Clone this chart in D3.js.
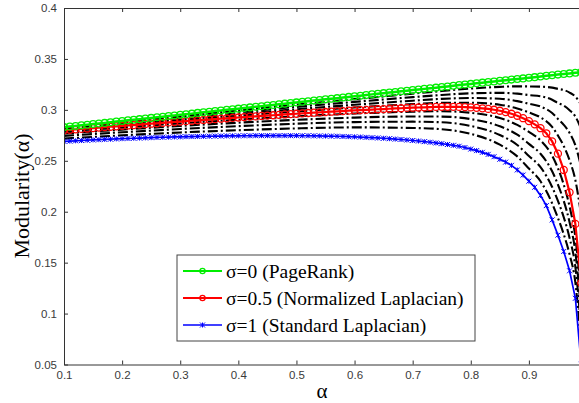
<!DOCTYPE html>
<html>
<head>
<meta charset="utf-8">
<script src="https://cdn.jsdelivr.net/npm/d3@7/dist/d3.min.js"></script>
<style>
  html, body { margin: 0; padding: 0; background: #fff; }
  svg { display: block; }
</style>
</head>
<body>
<svg id="chart" width="579" height="403"></svg>
<script>
// Sampling grid of the damping factor alpha for the marked series (0.10 .. 0.99)
const alphaGrid = d3.range(10, 100).map(d => d / 100);

// sigma = 0 (PageRank)
const pageRank = [
  0.2830, 0.2836, 0.2842, 0.2848, 0.2854, 0.2860, 0.2866, 0.2872, 0.2879, 0.2885,
  0.2891, 0.2897, 0.2903, 0.2909, 0.2915, 0.2921, 0.2927, 0.2933, 0.2939, 0.2945,
  0.2951, 0.2957, 0.2963, 0.2970, 0.2976, 0.2982, 0.2988, 0.2994, 0.3000, 0.3006,
  0.3012, 0.3018, 0.3024, 0.3030, 0.3036, 0.3042, 0.3048, 0.3054, 0.3061, 0.3067,
  0.3073, 0.3079, 0.3085, 0.3091, 0.3097, 0.3103, 0.3109, 0.3115, 0.3121, 0.3127,
  0.3133, 0.3139, 0.3145, 0.3152, 0.3158, 0.3164, 0.3170, 0.3176, 0.3182, 0.3188,
  0.3194, 0.3200, 0.3206, 0.3212, 0.3218, 0.3224, 0.3230, 0.3236, 0.3243, 0.3249,
  0.3255, 0.3261, 0.3267, 0.3273, 0.3279, 0.3285, 0.3291, 0.3297, 0.3303, 0.3309,
  0.3315, 0.3321, 0.3327, 0.3334, 0.3340, 0.3346, 0.3352, 0.3358, 0.3364, 0.3370
];

// sigma = 0.5 (Normalized Laplacian)
const normalizedLaplacian = [
  0.2800, 0.2804, 0.2809, 0.2813, 0.2817, 0.2821, 0.2826, 0.2830, 0.2834, 0.2838,
  0.2843, 0.2847, 0.2851, 0.2855, 0.2860, 0.2864, 0.2868, 0.2872, 0.2877, 0.2881,
  0.2885, 0.2889, 0.2893, 0.2897, 0.2901, 0.2905, 0.2909, 0.2913, 0.2917, 0.2921,
  0.2925, 0.2929, 0.2933, 0.2936, 0.2940, 0.2944, 0.2947, 0.2951, 0.2955, 0.2958,
  0.2962, 0.2965, 0.2969, 0.2972, 0.2975, 0.2979, 0.2982, 0.2985, 0.2988, 0.2992,
  0.2995, 0.2998, 0.3000, 0.3003, 0.3006, 0.3008, 0.3011, 0.3014, 0.3016, 0.3019,
  0.3021, 0.3023, 0.3025, 0.3027, 0.3029, 0.3030, 0.3030, 0.3030, 0.3029, 0.3027,
  0.3024, 0.3020, 0.3015, 0.3009, 0.3001, 0.2991, 0.2978, 0.2962, 0.2942, 0.2918,
  0.2890, 0.2858, 0.2820, 0.2770, 0.2690, 0.2570, 0.2410, 0.2190, 0.1880, 0.1300
];

// sigma = 1 (Standard Laplacian)
const standardLaplacian = [
  0.2690, 0.2693, 0.2696, 0.2699, 0.2702, 0.2705, 0.2707, 0.2710, 0.2712, 0.2715,
  0.2717, 0.2719, 0.2721, 0.2723, 0.2725, 0.2727, 0.2729, 0.2731, 0.2732, 0.2734,
  0.2735, 0.2737, 0.2738, 0.2739, 0.2740, 0.2741, 0.2742, 0.2743, 0.2744, 0.2745,
  0.2745, 0.2746, 0.2746, 0.2747, 0.2747, 0.2747, 0.2747, 0.2747, 0.2747, 0.2747,
  0.2747, 0.2746, 0.2746, 0.2745, 0.2744, 0.2743, 0.2742, 0.2741, 0.2739, 0.2737,
  0.2735, 0.2733, 0.2730, 0.2727, 0.2724, 0.2721, 0.2717, 0.2713, 0.2709, 0.2704,
  0.2699, 0.2694, 0.2688, 0.2682, 0.2675, 0.2668, 0.2660, 0.2652, 0.2643, 0.2630,
  0.2615, 0.2600, 0.2583, 0.2563, 0.2540, 0.2515, 0.2487, 0.2455, 0.2410, 0.2360,
  0.2300, 0.2240, 0.2160, 0.2060, 0.1920, 0.1770, 0.1610, 0.1420, 0.1150, 0.0500
];

// Intermediate sigma values (dash-dot curves), sampled at these alphas
const alphaKnots = [0.10, 0.20, 0.30, 0.40, 0.50, 0.60, 0.70, 0.75, 0.80, 0.85, 0.88, 0.90, 0.92, 0.94, 0.95, 0.96, 0.97, 0.98, 0.99];
const sigma01 = [0.2824, 0.2881, 0.2938, 0.2995, 0.3051, 0.3105, 0.3159, 0.3185, 0.3209, 0.3226, 0.3231, 0.3230, 0.3228, 0.3218, 0.3206, 0.3195, 0.3170, 0.3130, 0.3050];
const sigma02 = [0.2818, 0.2872, 0.2925, 0.2977, 0.3029, 0.3078, 0.3125, 0.3146, 0.3163, 0.3167, 0.3159, 0.3145, 0.3134, 0.3099, 0.3067, 0.3041, 0.2996, 0.2934, 0.2811];
const sigma03 = [0.2812, 0.2862, 0.2911, 0.2960, 0.3006, 0.3050, 0.3090, 0.3108, 0.3116, 0.3109, 0.3086, 0.3060, 0.3033, 0.2969, 0.2911, 0.2853, 0.2774, 0.2652, 0.2438];
const sigma04 = [0.2806, 0.2853, 0.2898, 0.2942, 0.2984, 0.3023, 0.3056, 0.3069, 0.3070, 0.3050, 0.3014, 0.2975, 0.2926, 0.2833, 0.2748, 0.2645, 0.2505, 0.2310, 0.1962];
const sigma06 = [0.2787, 0.2828, 0.2867, 0.2903, 0.2936, 0.2964, 0.2982, 0.2987, 0.2971, 0.2920, 0.2852, 0.2784, 0.2701, 0.2551, 0.2426, 0.2266, 0.2051, 0.1749, 0.1156];
const sigma07 = [0.2768, 0.2806, 0.2842, 0.2874, 0.2902, 0.2924, 0.2935, 0.2934, 0.2909, 0.2839, 0.2756, 0.2666, 0.2569, 0.2397, 0.2266, 0.2106, 0.1897, 0.1603, 0.0996];
const sigma08 = [0.2745, 0.2780, 0.2812, 0.2840, 0.2864, 0.2880, 0.2884, 0.2878, 0.2842, 0.2753, 0.2655, 0.2548, 0.2437, 0.2243, 0.2106, 0.1946, 0.1743, 0.1457, 0.0836];
const sigma09 = [0.2718, 0.2750, 0.2778, 0.2800, 0.2818, 0.2828, 0.2822, 0.2810, 0.2764, 0.2658, 0.2543, 0.2424, 0.2299, 0.2082, 0.1938, 0.1778, 0.1582, 0.1303, 0.0668];

const xTicks = [0.1, 0.2, 0.3, 0.4, 0.5, 0.6, 0.7, 0.8, 0.9, 1.0];
const xTickLabels = ["0.1", "0.2", "0.3", "0.4", "0.5", "0.6", "0.7", "0.8", "0.9", ""];
const yTicks = [0.05, 0.1, 0.15, 0.2, 0.25, 0.3, 0.35, 0.4];
const legendLabels = ["σ=0 (PageRank)", "σ=0.5 (Normalized Laplacian)", "σ=1 (Standard Laplacian)"];

const svg = d3.select("#chart");
const margin = { left: 64, top: 8, right: 587, bottom: 364.5 };

const x = d3.scaleLinear().domain([0.1, 1.0]).range([margin.left, margin.right]);
const y = d3.scaleLinear().domain([0.05, 0.4]).range([margin.bottom, margin.top]);

svg.append("defs").append("clipPath").attr("id", "plotClip")
  .append("rect")
  .attr("x", margin.left).attr("y", margin.top)
  .attr("width", margin.right - margin.left).attr("height", margin.bottom - margin.top);

const plot = svg.append("g").attr("clip-path", "url(#plotClip)");

// dash-dot family
const smoothLine = d3.line()
  .x((d, i) => x(alphaKnots[i]))
  .y(d => y(d))
  .curve(d3.curveMonotoneX);

[sigma01, sigma02, sigma03, sigma04, sigma06, sigma07, sigma08, sigma09].forEach(vals => {
  plot.append("path")
    .attr("d", smoothLine(vals))
    .attr("fill", "none")
    .attr("stroke", "#000")
    .attr("stroke-width", 2.1)
    .attr("stroke-dasharray", "10 3 2 3");
});

const gridLine = d3.line()
  .x((d, i) => x(alphaGrid[i]))
  .y(d => y(d));

const series = [
  { vals: standardLaplacian, color: "#0000ff", width: 1.7, marker: "x" },
  { vals: normalizedLaplacian, color: "#ff0000", width: 2.2, marker: "o", r: 3.5 },
  { vals: pageRank, color: "#00ee00", width: 2.5, marker: "o", r: 3.4 }
];

function drawMarker(g, cx, cy, s) {
  if (s.marker === "o") {
    g.append("circle").attr("cx", cx).attr("cy", cy).attr("r", s.r)
      .attr("fill", "none").attr("stroke", s.color).attr("stroke-width", 1.3);
  } else {
    const k = 2.5;
    g.append("path")
      .attr("d", `M${cx - k},${cy - k}L${cx + k},${cy + k}M${cx - k},${cy + k}L${cx + k},${cy - k}M${cx},${cy - k}L${cx},${cy + k}`)
      .attr("stroke", s.color).attr("stroke-width", 1);
  }
}

series.forEach(s => {
  plot.append("path")
    .attr("d", gridLine(s.vals))
    .attr("fill", "none")
    .attr("stroke", s.color)
    .attr("stroke-width", s.width);
  const mg = plot.append("g");
  s.vals.forEach((v, i) => drawMarker(mg, x(alphaGrid[i]), y(v), s));
});

// axes
const tickFont = "'Liberation Sans', Arial, sans-serif";
const axisColor = "#333";

const xAxis = d3.axisBottom(x).tickValues(xTicks).tickFormat((d, i) => xTickLabels[i])
  .tickSizeInner(-4).tickSizeOuter(0).tickPadding(6);
svg.append("g").attr("transform", `translate(0,${margin.bottom})`).call(xAxis);

const xTop = d3.axisTop(x).tickValues(xTicks).tickFormat("")
  .tickSizeInner(-4).tickSizeOuter(0);
svg.append("g").attr("transform", `translate(0,${margin.top})`).call(xTop);

const yAxis = d3.axisLeft(y).tickValues(yTicks).tickFormat(d3.format("~g"))
  .tickSizeInner(-4).tickSizeOuter(0).tickPadding(7);
svg.append("g").attr("transform", `translate(${margin.left},0)`).call(yAxis);

const yRight = d3.axisRight(y).tickValues(yTicks).tickFormat("")
  .tickSizeInner(-4).tickSizeOuter(0);
svg.append("g").attr("transform", `translate(${margin.right},0)`).call(yRight);

svg.selectAll(".domain").attr("stroke", axisColor).attr("stroke-width", 1);
svg.selectAll(".tick line").attr("stroke", axisColor);
svg.selectAll(".tick text")
  .attr("fill", "#3a3a3a")
  .style("font-family", tickFont)
  .style("font-size", "11.5px");

// axis titles
const serif = "'Liberation Serif', 'Times New Roman', serif";
svg.append("text")
  .attr("x", 322)
  .attr("y", 398)
  .attr("text-anchor", "middle")
  .style("font-family", serif)
  .style("font-size", "21px")
  .text("α");

svg.append("text")
  .attr("transform", `translate(29,196) rotate(-90)`)
  .attr("text-anchor", "middle")
  .style("font-family", serif)
  .style("font-size", "22px")
  .text("Modularity(α)");

// legend
const legend = svg.append("g");
legend.append("rect")
  .attr("x", 177).attr("y", 255).attr("width", 298).attr("height", 86)
  .attr("fill", "#fff").attr("stroke", "#444").attr("stroke-width", 1);

const legendSeries = [series[2], series[1], series[0]];
legendLabels.forEach((label, i) => {
  const ly = 271 + i * 27;
  const s = legendSeries[i];
  legend.append("line")
    .attr("x1", 183).attr("x2", 222).attr("y1", ly).attr("y2", ly)
    .attr("stroke", s.color).attr("stroke-width", Math.min(s.width, 2));
  drawMarker(legend, 202.5, ly, Object.assign({}, s, { r: 2.6 }));
  legend.append("text")
    .attr("x", 226).attr("y", ly + 7)
    .style("font-family", serif)
    .style("font-size", "19.5px")
    .attr("fill", "#000")
    .text(label);
});
</script>
</body>
</html>
